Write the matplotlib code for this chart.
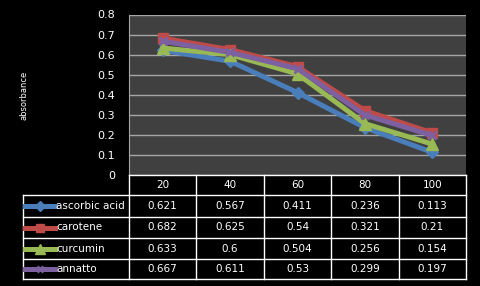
import numpy as np
import matplotlib
matplotlib.use("Agg")
from matplotlib import pyplot as plt
from matplotlib.lines import Line2D

categories = ['20', '40', '60', '80', '100']
series_names = ['ascorbic acid', 'carotene', 'curcumin', 'annatto']
ascorbic = [0.621, 0.567, 0.411, 0.236, 0.113]
carotene = [0.682, 0.625, 0.54, 0.321, 0.21]
curcumin = [0.633, 0.6, 0.504, 0.256, 0.154]
annatto = [0.667, 0.611, 0.53, 0.299, 0.197]
yticks = [0, 0.1, 0.2, 0.3, 0.4, 0.5, 0.6, 0.7, 0.8]

series = [ascorbic, carotene, curcumin, annatto]
colors = ['#4a7ebb', '#be4b48', '#98b954', '#7d60a0']
markers = ['D', 's', '^', 'x']
msizes = [6, 7, 8, 6]

fig = plt.figure(figsize=(4.8, 2.86), dpi=100, facecolor='black')
W, H = 480, 286
x0, x1, ytop, ybot = 129, 466, 14.5, 175
ax = fig.add_axes([x0 / W, 1 - ybot / H, (x1 - x0) / W, (ybot - ytop) / H])
ax.set_facecolor('#404040')

xs = np.arange(len(categories)) + 0.5
for vals, c, m, ms in zip(series, colors, markers, msizes):
    ax.plot(xs, vals, color=c, lw=3.6, marker=m, ms=ms, mec=c, mfc=c,
            mew=2 if m == 'x' else 1, zorder=3)

ax.set_xlim(0, len(categories))
ax.set_ylim(0, 0.8)
ax.set_yticks(yticks)
ax.set_yticklabels(['0' if v == 0 else f'{v:g}' for v in yticks],
                   color='white', fontsize=8)
ax.set_xticks([])
ax.tick_params(axis='y', length=0, pad=10)
ax.grid(axis='y', color='#a6a6a6', lw=1)
ax.set_axisbelow(True)
for s in ['top', 'right']:
    ax.spines[s].set_visible(False)
ax.spines['left'].set_color('#a6a6a6')
ax.spines['bottom'].set_visible(False)

fig.text(24 / W, 1 - 95 / H, 'absorbance', rotation=90, color='white',
         fontsize=6, ha='center', va='center')

# data table below the plot
tl, tr = 23, 466
row_edges = [175, 195, 217, 238, 259, 279]
col_edges = [tl, 129] + [129 + (tr - 129) * (i + 1) / 5 for i in range(5)]

def fx(px):
    return px / W

def fy(py):
    return 1 - py / H

lw = 1.0
# horizontal lines
for i, yy in enumerate(row_edges):
    left = col_edges[1] if i == 0 else tl
    fig.add_artist(Line2D([fx(left), fx(tr)], [fy(yy), fy(yy)], color='white', lw=lw))
# vertical lines
for j, xx in enumerate(col_edges):
    top = row_edges[1] if j == 0 else row_edges[0]
    fig.add_artist(Line2D([fx(xx), fx(xx)], [fy(top), fy(row_edges[-1])], color='white', lw=lw))

for j, cat in enumerate(categories):
    cx = (col_edges[j + 1] + col_edges[j + 2]) / 2
    cy = (row_edges[0] + row_edges[1]) / 2
    fig.text(fx(cx), fy(cy), cat, color='white', fontsize=7.5, ha='center', va='center')

for i, (name, vals, c, m, ms) in enumerate(zip(series_names, series, colors, markers, msizes)):
    cy = (row_edges[i + 1] + row_edges[i + 2]) / 2
    fig.add_artist(Line2D([fx(25), fx(55)], [fy(cy), fy(cy)], color=c, lw=3.6))
    fig.add_artist(Line2D([fx(40)], [fy(cy)], color=c, marker=m, ms=ms - 1,
                          mec=c, mfc=c, mew=2 if m == 'x' else 1))
    fig.text(fx(56), fy(cy), name, color='white', fontsize=7.5, ha='left', va='center')
    for j, v in enumerate(vals):
        cx = (col_edges[j + 1] + col_edges[j + 2]) / 2
        fig.text(fx(cx), fy(cy), f'{v:g}', color='white', fontsize=7.5,
                 ha='center', va='center')

fig.savefig('out.png', dpi=100, facecolor='black')
